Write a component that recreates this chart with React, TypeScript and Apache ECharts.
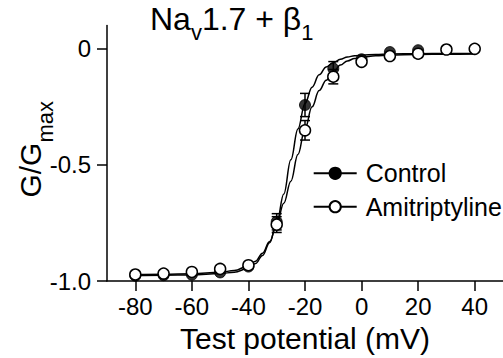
import React, { useEffect, useRef } from "react";
import * as echarts from "echarts";

// Test potentials (mV)
const voltages = [-80, -70, -60, -50, -40, -30, -20, -10, 0, 10, 20, 30, 40];
const controlVoltages = [-80, -70, -60, -50, -40, -30, -20, -10, 0, 10, 20];
// Normalised conductance G/Gmax
const controlValues = [-0.977, -0.975, -0.973, -0.963, -0.938, -0.745, -0.242, -0.085, -0.045, -0.014, -0.006];
const amiValues = [-0.972, -0.968, -0.961, -0.948, -0.932, -0.757, -0.351, -0.12, -0.056, -0.031, -0.021, -0.003, 0.0];
// SEM (only where visible outside the marker)
const controlErr = [0, 0, 0, 0, 0, 0.035, 0.05, 0.03, 0, 0, 0];
const amiErr = [0, 0, 0, 0, 0, 0.034, 0.042, 0.031, 0, 0, 0, 0, 0];

// Fitted Boltzmann curves
const fitV = [-80, -70, -60, -50, -45, -40, -37.5, -35, -32.5, -30, -27.5, -25, -22.5, -20, -17.5, -15, -12.5, -10, -7.5, -5, -2.5, 0, 5, 10, 20, 30, 40];
const controlFit = [-0.976, -0.975, -0.974, -0.968, -0.962, -0.945, -0.925, -0.89, -0.835, -0.75, -0.625, -0.478, -0.345, -0.235, -0.165, -0.112, -0.078, -0.06, -0.045, -0.035, -0.03, -0.027, -0.024, -0.022, -0.021, -0.02, -0.02];
const amiFit = [-0.972, -0.971, -0.969, -0.962, -0.955, -0.935, -0.915, -0.88, -0.83, -0.755, -0.665, -0.57, -0.455, -0.345, -0.25, -0.18, -0.135, -0.1, -0.07, -0.052, -0.042, -0.036, -0.03, -0.027, -0.024, -0.023, -0.022];

const xTicks = [-80, -60, -40, -20, 0, 20, 40];
const yTicks = [-1, -0.5, 0];

const FONT = "'Liberation Sans', Arial, Helvetica, sans-serif";

export default function App() {
  const ref = useRef<HTMLDivElement>(null);
  useEffect(() => {
    if (!ref.current) return;
    const chart = echarts.init(ref.current, null, { renderer: "svg" });

    const ctrlPts = controlVoltages.map((v, i) => [v, controlValues[i]]);
    const amiPts = voltages.map((v, i) => [v, amiValues[i]]);
    const errRows: number[][] = [];
    controlVoltages.forEach((v, i) => {
      if (controlErr[i] > 0) errRows.push([v, controlValues[i] - controlErr[i], controlValues[i] + controlErr[i]]);
    });
    voltages.forEach((v, i) => {
      if (amiErr[i] > 0) errRows.push([v, amiValues[i] - amiErr[i], amiValues[i] + amiErr[i]]);
    });

    const lineStyle = { color: "#000", width: 1.5 };

    chart.setOption({
      animation: false,
      backgroundColor: "#fff",
      textStyle: { fontFamily: FONT, color: "#000" },
      title: {
        text: "{m|Na}{s|v}{m|1.7 + β}{s|1}",
        left: 150,
        top: 4.2,
        padding: 0,
        textStyle: {
          fontWeight: "normal",
          rich: {
            m: { fontSize: 32, fontWeight: "normal", lineHeight: 36, padding: [0, 0, 5.9, 0], color: "#000", fontFamily: FONT },
            s: { fontSize: 22, fontWeight: "normal", lineHeight: 22, padding: [19.9, 0, 0, 0], color: "#000", fontFamily: FONT },
          },
        },
      },
      grid: { left: 107, right: 0, top: 25.6, bottom: 72 },
      legend: {
        data: ["Control", "Amitriptyline"],
        orient: "vertical",
        left: 312.7,
        top: 159.3,
        padding: 0,
        itemWidth: 43,
        itemHeight: 14,
        itemGap: 5.4,
        selectedMode: false,
        textStyle: { fontSize: 25, lineHeight: 28, color: "#000", fontFamily: FONT, padding: [0, 0, 0, 4] },
      },
      xAxis: {
        type: "value",
        min: -90,
        max: 50,
        name: "Test potential (mV)",
        nameLocation: "middle",
        nameGap: 42,
        nameMoveOverlap: false,
        nameTextStyle: { fontSize: 30, lineHeight: 30, color: "#000", fontFamily: FONT },
        axisLine: { onZero: false, lineStyle: { color: "#000", width: 1.5 } },
        axisTick: { show: true, length: 10, inside: false, customValues: xTicks, lineStyle: { color: "#000", width: 1.5 } },
        axisLabel: { customValues: xTicks, margin: 13, fontSize: 24, color: "#000", fontFamily: FONT },
        splitLine: { show: false },
      },
      yAxis: {
        type: "value",
        min: -1,
        max: 0.1,
        name: "{m|G/G}{s|max}",
        nameLocation: "middle",
        nameRotate: 90,
        nameGap: 55,
        nameMoveOverlap: false,
        nameTextStyle: {
          rich: {
            m: { fontSize: 30, lineHeight: 34, padding: [0, 0, 9.8, 8], color: "#000", fontFamily: FONT },
            s: { fontSize: 22, lineHeight: 22, padding: [21.8, 0, 0, 0], color: "#000", fontFamily: FONT },
          },
        },
        axisLine: { onZero: false, lineStyle: { color: "#000", width: 1.5 } },
        axisTick: { show: true, length: 10, inside: false, customValues: yTicks, lineStyle: { color: "#000", width: 1.5 } },
        axisLabel: {
          customValues: yTicks,
          margin: 16,
          fontSize: 24,
          color: "#000",
          fontFamily: FONT,
          formatter: (v: number) => (v === 0 ? "0" : v.toFixed(1)),
        },
        splitLine: { show: false },
      },
      series: [
        {
          name: "Control",
          type: "line",
          data: fitV.map((v, i) => [v, controlFit[i]]),
          smooth: 0.4,
          smoothMonotone: "x",
          symbol: "circle",
          showSymbol: false,
          lineStyle,
          itemStyle: { color: "#000", borderColor: "#000", borderWidth: 1.5 },
          z: 1,
          silent: true,
        },
        {
          name: "Amitriptyline",
          type: "line",
          data: fitV.map((v, i) => [v, amiFit[i]]),
          smooth: 0.4,
          smoothMonotone: "x",
          symbol: "circle",
          showSymbol: false,
          lineStyle,
          itemStyle: { color: "#fff", borderColor: "#000", borderWidth: 1.5 },
          z: 1,
          silent: true,
        },
        {
          name: "errors",
          type: "custom",
          data: errRows,
          encode: { x: 0, y: [1, 2] },
          z: 2,
          silent: true,
          renderItem: (params: any, api: any) => {
            const x = api.value(0);
            const lo = api.coord([x, api.value(1)]);
            const hi = api.coord([x, api.value(2)]);
            const hw = 5;
            const st = { stroke: "#000", lineWidth: 1.5 };
            return {
              type: "group",
              children: [
                { type: "line", shape: { x1: lo[0], y1: lo[1], x2: hi[0], y2: hi[1] }, style: st },
                { type: "line", shape: { x1: lo[0] - hw, y1: lo[1], x2: lo[0] + hw, y2: lo[1] }, style: st },
                { type: "line", shape: { x1: hi[0] - hw, y1: hi[1], x2: hi[0] + hw, y2: hi[1] }, style: st },
              ],
            };
          },
        },
        {
          name: "Control points",
          type: "scatter",
          data: ctrlPts,
          symbol: "circle",
          symbolSize: 11,
          itemStyle: { color: "#000", borderColor: "#000", borderWidth: 1 },
          z: 3,
          silent: true,
        },
        {
          name: "Amitriptyline points",
          type: "scatter",
          data: amiPts,
          symbol: "circle",
          symbolSize: 11,
          itemStyle: { color: "#fff", borderColor: "#000", borderWidth: 1.5, opacity: 1 },
          z: 4,
          silent: true,
        },
      ],
    });
    return () => chart.dispose();
  }, []);
  return (
    <div
      ref={ref}
      style={{ position: "fixed", left: 0, top: 0, width: 503, height: 358, background: "#fff" }}
    />
  );
}
